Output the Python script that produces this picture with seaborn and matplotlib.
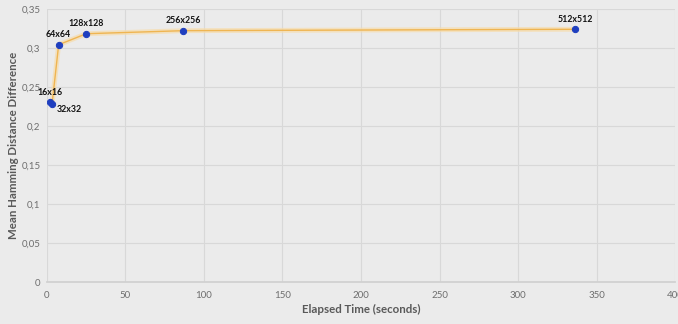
import matplotlib
matplotlib.use("Agg")
import matplotlib.pyplot as plt
import seaborn as sns
import pandas as pd

labels = ["16x16", "32x32", "64x64", "128x128", "256x256", "512x512"]
elapsed = [2.1, 3.4, 7.6, 25.2, 87.0, 336.4]
hamming = [0.2308, 0.2286, 0.3046, 0.3187, 0.3226, 0.3244]
x_ticks = [0, 50, 100, 150, 200, 250, 300, 350, 400]
y_ticks = [0, 0.05, 0.1, 0.15, 0.2, 0.25, 0.3, 0.35]
y_tick_labels = ["0", "0,05", "0,1", "0,15", "0,2", "0,25", "0,3", "0,35"]

df = pd.DataFrame({"label": labels, "time": elapsed, "ham": hamming})

sns.set_theme(style="white")
plt.rcParams["font.family"] = ["Lato", "DejaVu Sans"]

bg = "#ebebeb"
fig = plt.figure(figsize=(6.78, 3.24), dpi=100, facecolor=bg)
ax = fig.add_axes([0.0689, 0.1287, 0.9271, 0.8426])
ax.set_facecolor(bg)

# glow underlay
sns.lineplot(data=df, x="time", y="ham", ax=ax, sort=False, color="#f7dcaa",
             linewidth=3.5, alpha=0.7, zorder=2)
sns.lineplot(data=df, x="time", y="ham", ax=ax, sort=False, color="#efb552",
             linewidth=1.0, marker="o", markersize=4.5, markerfacecolor="#1f3fbf",
             markeredgecolor="#1f3fbf", zorder=3)

offsets = {
    "16x16": (0, 4, "center", "bottom"),
    "32x32": (3, -1, "left", "top"),
}
for lab, x, y in zip(labels, elapsed, hamming):
    dx, dy, ha, va = offsets.get(lab, (0, 4, "center", "bottom"))
    ax.annotate(lab, (x, y), xytext=(dx, dy), textcoords="offset points",
                ha=ha, va=va, fontsize=6.3, fontweight="bold", color="#111111")

ax.set_xlim(0, 400)
ax.set_ylim(0, 0.35)
ax.set_xticks(x_ticks)
ax.set_xticklabels([str(t) for t in x_ticks])
ax.set_yticks(y_ticks)
ax.set_yticklabels(y_tick_labels)
ax.grid(True, color="#d8d8d8", linewidth=0.8)
ax.set_axisbelow(True)
for s in ["top", "right", "left"]:
    ax.spines[s].set_visible(False)
ax.spines["bottom"].set_color("#d0d0d0")
ax.tick_params(axis="x", length=0, labelsize=7, colors="#6e6e6e", pad=6)
ax.tick_params(axis="y", length=0, labelsize=7, colors="#6e6e6e", pad=4.5)
ax.set_xlabel("Elapsed Time (seconds)", fontsize=8.3, fontweight="bold", color="#595959", labelpad=3)
ax.set_ylabel("Mean Hamming Distance Difference", fontsize=8.3, fontweight="bold", color="#595959")
ax.yaxis.set_label_coords(-0.044, 0.5)

fig.savefig("out.png", dpi=100, facecolor=bg)
